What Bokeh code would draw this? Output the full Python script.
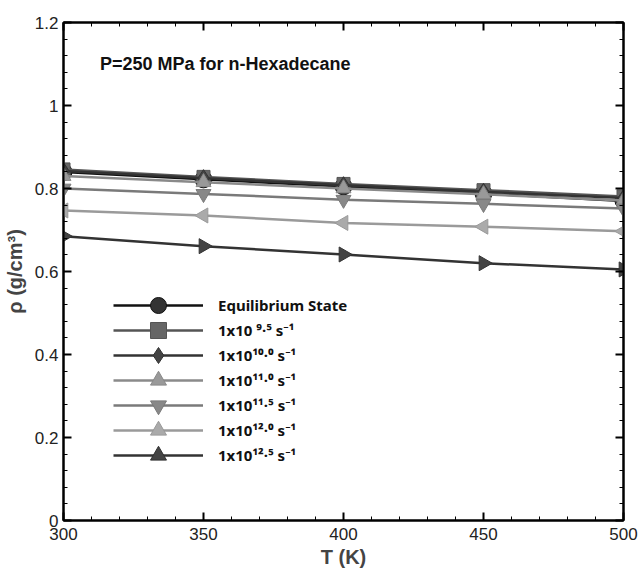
import numpy as np
from bokeh.plotting import figure
from bokeh.models import (Range1d, LinearAxis, FixedTicker, CustomJSTickFormatter,
                          Legend, LegendItem, Label)
from bokeh.embed import file_html
from bokeh.resources import INLINE

T = [300, 350, 400, 450, 500]
rho_eq = [0.840, 0.822, 0.805, 0.788, 0.770]
rho_9_5 = [0.846, 0.828, 0.811, 0.796, 0.781]
rho_10_0 = [0.842, 0.825, 0.808, 0.792, 0.777]
rho_11_0 = [0.830, 0.815, 0.800, 0.786, 0.771]
rho_11_5 = [0.800, 0.787, 0.773, 0.763, 0.752]
rho_12_0 = [0.747, 0.735, 0.717, 0.708, 0.697]
rho_12_5 = [0.685, 0.661, 0.641, 0.620, 0.605]

x_ticks = [300, 350, 400, 450, 500]
y_ticks = [0, 0.2, 0.4, 0.6, 0.8, 1, 1.2]

labels = ["Equilibrium State", "1x10 \u2079\u00b7\u2075 s\u207b\u00b9", "1x10\u00b9\u2070\u00b7\u2070 s\u207b\u00b9",
          "1x10\u00b9\u00b9\u00b7\u2070 s\u207b\u00b9", "1x10\u00b9\u00b9\u00b7\u2075 s\u207b\u00b9",
          "1x10\u00b9\u00b2\u00b7\u2070 s\u207b\u00b9", "1x10\u00b9\u00b2\u00b7\u2075 s\u207b\u00b9"]
series = [rho_eq, rho_9_5, rho_10_0, rho_11_0, rho_11_5, rho_12_0, rho_12_5]
markers = ["circle", "square", "diamond", "triangle", "inverted_triangle", "triangle", "triangle"]
angles = [0, 0, 0, 0, 0, 1.5708, -1.5708]
line_colors = ["#111111", "#555555", "#333333", "#8a8a8a", "#7a7a7a", "#9a9a9a", "#333333"]
fill_colors = ["#333333", "#666666", "#444444", "#999999", "#888888", "#aaaaaa", "#444444"]
sizes = [17, 13, 17, 15, 15, 15, 15]

p = figure(width=640, height=574, output_backend="svg", toolbar_location=None,
           x_range=Range1d(300, 500), y_range=Range1d(0, 1.2),
           min_border_left=63, min_border_right=17, min_border_top=22, min_border_bottom=54)
p.xgrid.visible = False
p.ygrid.visible = False
p.background_fill_color = "white"
p.outline_line_color = "black"
p.outline_line_width = 2

x_minor = np.arange(300, 501, 10).tolist()
y_minor = np.round(np.arange(0, 1.2001, 0.04), 4).tolist()
xt = FixedTicker(ticks=x_ticks, minor_ticks=x_minor)
yt = FixedTicker(ticks=y_ticks, minor_ticks=y_minor)
yfmt = CustomJSTickFormatter(code="return Number(tick.toFixed(2)).toString();")
blank = CustomJSTickFormatter(code="return '';")

def style_axis(ax):
    ax.axis_line_width = 2
    ax.axis_line_color = "black"
    ax.major_tick_in = 8
    ax.major_tick_out = 0
    ax.minor_tick_in = 4
    ax.minor_tick_out = 0
    ax.major_tick_line_width = 2
    ax.minor_tick_line_width = 1
    ax.major_tick_line_color = "black"
    ax.minor_tick_line_color = "black"
    ax.major_label_text_font = "Liberation Sans"
    ax.major_label_text_font_size = "17px"
    ax.major_label_text_color = "#222222"

xa = p.xaxis[0]
xa.ticker = xt
style_axis(xa)
xa.major_label_standoff = 7
xa.axis_label = "T (K)"
xa.axis_label_text_font = "Liberation Sans"
xa.axis_label_text_font_size = "20px"
xa.axis_label_text_font_style = "bold"
xa.axis_label_standoff = 3

ya = p.yaxis[0]
ya.ticker = yt
ya.formatter = yfmt
style_axis(ya)
ya.major_label_standoff = 5
ya.axis_label = "\u03c1 (g/cm\u00b3)"
ya.axis_label_text_font = "Liberation Sans"
ya.axis_label_text_font_size = "20px"
ya.axis_label_text_font_style = "bold"
ya.axis_label_standoff = 6

ra = LinearAxis(ticker=yt, formatter=blank)
style_axis(ra)
p.add_layout(ra, "right")
ta = LinearAxis(ticker=xt, formatter=blank)
style_axis(ta)
p.add_layout(ta, "above")

row_step = 25
first_bottom = 195
for i, (lab, ys, mk, ang, lc, fc, sz) in enumerate(zip(labels, series, markers, angles,
                                                       line_colors, fill_colors, sizes)):
    r1 = p.line(T, ys, line_color=lc, line_width=2.5)
    r2 = p.scatter(T, ys, marker=mk, angle=ang, size=sz, fill_color=fc, line_color=lc, line_width=1)
    leg = Legend(items=[LegendItem(label=lab, renderers=[r1, r2])],
                 location=(50, first_bottom - row_step * i), border_line_color=None,
                 background_fill_alpha=0, padding=0, spacing=0, margin=0,
                 label_height=40, glyph_height=40, glyph_width=90, label_standoff=15,
                 label_text_font="Noto Sans", label_text_font_size="15px",
                 label_text_font_style="bold", label_text_color="#111111")
    p.add_layout(leg, "center")

p.add_layout(Label(x=313, y=1.10, text="P=250 MPa for n-Hexadecane",
                   text_font="Liberation Sans", text_font_size="18px", text_font_style="bold",
                   text_baseline="middle", text_color="#111111"))

open("out.html", "w").write(file_html(p, INLINE))
